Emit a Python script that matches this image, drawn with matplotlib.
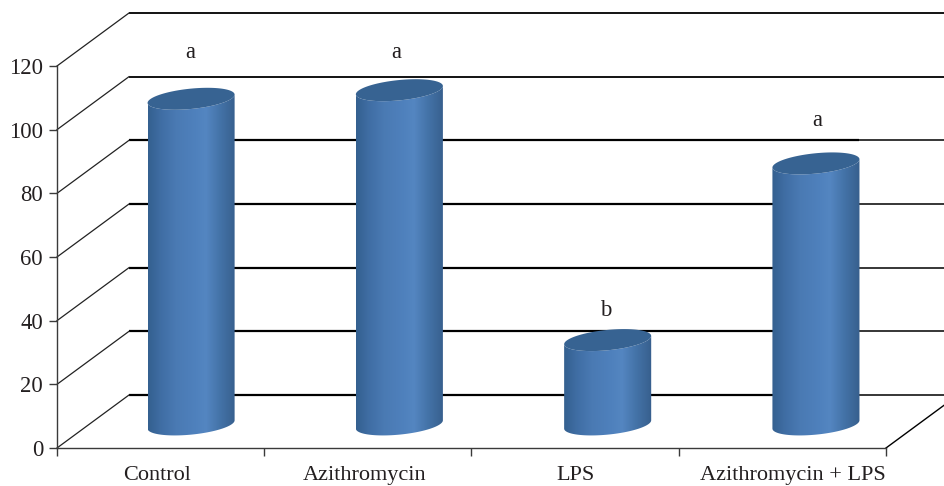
#!/usr/bin/env python
import numpy as np
import matplotlib
matplotlib.use('Agg')
import matplotlib.pyplot as plt
from matplotlib.colors import LinearSegmentedColormap
from matplotlib.patches import Polygon, PathPatch
from matplotlib.path import Path

categories = ['Control', 'Azithromycin', 'LPS', 'Azithromycin + LPS']
values = [102.3, 105, 26.5, 82]
letters = ['a', 'a', 'b', 'a']
letter_x = [0.642, 1.636, 2.649, 3.667]
letter_heights = [124.2, 124.2, 43.3, 103]
label_pos = [0.485, 1.485, 2.5, 3.55]
yticks = [0, 20, 40, 60, 80, 100, 120]

# 3d look: how far the back wall is shifted, in data units
W, H = 945, 486
depth_x = 72 / 207.25
depth_y = 53 / 3.183
# cylinder sizes, in data units
bar_gap = 1.005
bar_dx, bar_dy = 0.147, 7.4
bar_a, bar_b, bar_s = 0.21, 3.2, 1.3

plt.rcParams['font.family'] = ['Liberation Serif', 'DejaVu Serif']
text_col = '#231f20'
fsize = 16.3

fig = plt.figure(figsize=(W / 100, H / 100), dpi=100)
ax = fig.add_axes([57 / W, 1 - 448 / H, 829 / W, 382 / H])

last_right = 3 * bar_gap + 0.5 + bar_dx + bar_a
# back wall grid lines and the side/floor diagonals
for y in yticks:
    yb = y + depth_y
    if y <= 80:
        ax.plot([depth_x, last_right], [yb, yb], color='black', lw=1.6,
                clip_on=False, zorder=1, solid_capstyle='butt')
        ax.plot([last_right, 4.3], [yb, yb], color='black', lw=1.1,
                clip_on=False, zorder=1, solid_capstyle='butt')
    else:
        ax.plot([depth_x, 4.3], [yb, yb], color='black', lw=1.3,
                clip_on=False, zorder=1, solid_capstyle='butt')
    ax.plot([0, depth_x], [y, yb], color='#222222', lw=0.9, clip_on=False, zorder=1)
ax.plot([4, 4 + depth_x], [0, depth_y], color='black', lw=1.0, clip_on=False, zorder=1)

cmap = LinearSegmentedColormap.from_list('cyl', [
    (0.0, '#34608f'), (0.14, '#3f6da3'), (0.32, '#4a7ab3'), (0.55, '#4f81bd'),
    (0.66, '#5486c1'), (0.82, '#4473a8'), (1.0, '#375f8d')])
grad = np.linspace(0, 1, 256).reshape(1, -1)
t = np.linspace(0, np.pi, 60)
tt = np.linspace(0, 2 * np.pi, 120)

for i, v in enumerate(values):
    cx = i * bar_gap + 0.5 + bar_dx
    # lower half of the bottom ellipse, then the rim of the body at the top
    xb = cx - bar_a * np.cos(t)
    yb = bar_dy - bar_s * np.cos(t) - bar_b * np.sin(t)
    xt = cx + bar_a * np.cos(t)
    yt = bar_dy + v + bar_s * np.cos(t) - bar_b * np.sin(t)
    verts = np.vstack([np.column_stack([xb, yb]), np.column_stack([xt, yt])])
    body = PathPatch(Path(np.vstack([verts, verts[:1]]), closed=True), fc='none', ec='none',
                     transform=ax.transData)
    ax.add_patch(body)
    im = ax.imshow(grad, cmap=cmap, aspect='auto', zorder=3, interpolation='bilinear',
                   extent=[cx - bar_a, cx + bar_a, 0, 120])
    im.set_clip_path(body)
    top = Polygon(np.column_stack([cx + bar_a * np.cos(tt),
                                   bar_dy + v + bar_s * np.cos(tt) + bar_b * np.sin(tt)]),
                  closed=True, fc='#376392', ec='none', zorder=4)
    ax.add_patch(top)
    ax.text(letter_x[i], letter_heights[i], letters[i], ha='center', va='center',
            fontsize=fsize, color=text_col, zorder=5)

ax.set_xlim(0, 4)
ax.set_ylim(0, 120)
for s in ['top', 'right']:
    ax.spines[s].set_visible(False)
for s in ['left', 'bottom']:
    ax.spines[s].set_color('#3a3a3a')
    ax.spines[s].set_linewidth(1.0)
    ax.spines[s].set_zorder(2)
ax.set_yticks(yticks)
ax.set_xticks([0, 1, 2, 3, 4])
ax.set_xticklabels([])
ax.set_xticks(label_pos, minor=True)
ax.set_xticklabels(categories, minor=True)
ax.tick_params(axis='x', which='minor', length=0, pad=13, labelsize=16, labelcolor=text_col)
ax.tick_params(axis='x', which='major', length=6, width=1.0, color='#3a3a3a')
ax.tick_params(axis='y', length=6, width=1.0, color='#3a3a3a', pad=4,
               labelsize=fsize, labelcolor=text_col)

fig.savefig('out.png', dpi=100)
